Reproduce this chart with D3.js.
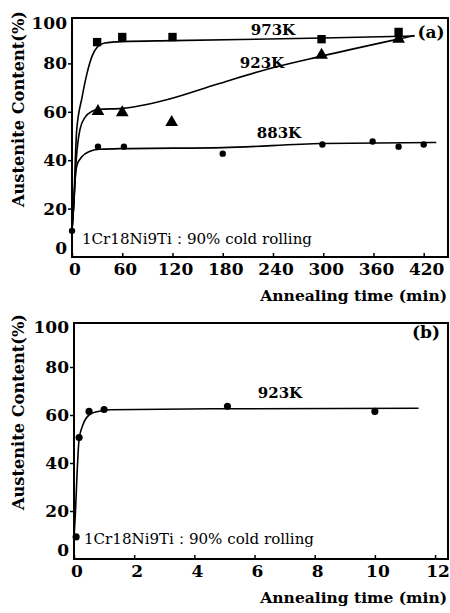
<!DOCTYPE html>
<html>
<head>
<meta charset="utf-8">
<script src="https://cdn.jsdelivr.net/npm/d3@7"></script>
<style>
  body { margin: 0; background: #fff; }
  text { font-family: "DejaVu Serif", "Liberation Serif", "Noto Serif", serif; }
</style>
</head>
<body>
<svg width="450" height="613"></svg>
<script>
// panel (a): annealing time in minutes
var ticksA = [0, 60, 120, 180, 240, 300, 360, 420];
var yTicks = [0, 20, 40, 60, 80, 100];

var pts973 = [[30, 88.8], [60, 90.9], [120, 90.9], [298, 90], [390, 93]];
var pts923 = [[31, 60.2], [60, 59.7], [119, 55.6], [298, 83.4], [390, 90]];
var pts883 = [[0, 10.8], [31, 45.6], [62, 45.6], [180, 42.7], [299, 46.5], [359, 47.7], [390, 45.6], [420, 46.5]];

// fitted curves
var fit973 = [[0, 11], [2, 22], [5.5, 52], [12, 66], [18, 76], [24, 83], [30, 86.7], [39, 88.4], [60, 89], [120, 89.4], [300, 90.5], [409, 91.3]];
var fit923 = [[0, 11], [2, 21], [5, 40], [9.5, 52.7], [15.5, 57.7], [24, 60.2], [32, 61], [60, 61.4], [113, 65], [173, 71.4], [233, 77.6], [298, 83], [389, 90], [409, 91.5]];
var fit883 = [[0, 11], [2, 21], [4, 33], [6, 38], [12, 41.5], [20, 43.5], [33, 44.5], [62, 44.8], [180, 45.2], [299, 46.9], [435, 47.3]];

// panel (b): annealing time in minutes, 923K
var ticksB = [0, 2, 4, 6, 8, 10, 12];
var ptsB = [[0.07, 9.2], [0.17, 50.6], [0.5, 61.5], [1.0, 62.3], [5.1, 63.6], [10, 61.5]];
var fitB = [[0, 9], [0.05, 20], [0.1, 35], [0.17, 50], [0.3, 56], [0.5, 60], [0.8, 61.5], [1.2, 62.2], [5, 62.6], [11.45, 62.8]];

var svg = d3.select("svg");

function panel(opt) {
  var x = d3.scaleLinear().domain(opt.xDomain).range([opt.left, opt.right]);
  var y = d3.scaleLinear().domain([0, 100]).range([opt.bottom, opt.top100]);
  var g = svg.append("g");

  // frame
  g.append("rect")
    .attr("x", opt.left).attr("y", opt.top)
    .attr("width", opt.right - opt.left).attr("height", opt.bottom - opt.top)
    .style("fill", "none").style("stroke", "#000").style("stroke-width", "2px");

  // x ticks point inwards
  var xAxis = d3.axisBottom(x).tickValues(opt.xTicks).tickSize(-4).tickFormat("");
  g.append("g").attr("transform", "translate(0," + opt.bottom + ")").call(xAxis)
    .call(function (s) { s.select(".domain").remove(); s.selectAll("line").style("stroke-width", "1.5px"); });
  g.selectAll("text.xt").data(opt.xTicks).enter().append("text")
    .attr("class", "xt")
    .attr("x", function (d) { return x(d) + 3; })
    .attr("y", opt.bottom + 18)
    .attr("text-anchor", "middle")
    .style("font-size", "17px").style("font-weight", "bold")
    .text(function (d) { return d; });

  var yAxis = d3.axisLeft(y).tickValues([20, 40, 60, 80]).tickSize(4).tickFormat("");
  g.append("g").attr("transform", "translate(" + opt.left + ",0)").call(yAxis)
    .call(function (s) { s.select(".domain").remove(); s.selectAll("line").style("stroke-width", "1.5px"); });
  g.selectAll("text.yt").data(yTicks).enter().append("text")
    .attr("class", "yt")
    .attr("x", opt.left - 5)
    .attr("y", function (d) {
      // end labels sit a little inside the frame
      if (d === 100) return y(d) + 8;
      if (d === 0) return y(d) - 9;
      return y(d);
    })
    .attr("dy", "0.35em")
    .attr("text-anchor", "end")
    .style("font-size", "17px").style("font-weight", "bold")
    .text(function (d) { return d; });

  // axis titles
  g.append("text")
    .attr("transform", "translate(24," + opt.yTitleMid + ") rotate(-90)")
    .attr("text-anchor", "middle")
    .attr("textLength", 196).attr("lengthAdjust", "spacingAndGlyphs")
    .style("font-size", "17px").style("font-weight", "bold")
    .text("Austenite Content(%)");
  g.append("text")
    .attr("x", 447).attr("y", opt.bottom + 44)
    .attr("text-anchor", "end")
    .style("font-size", "15.5px").style("font-weight", "bold")
    .text("Annealing time (min)");

  var line = d3.line()
    .x(function (d) { return x(d[0]); })
    .y(function (d) { return y(d[1]); })
    .curve(d3.curveMonotoneX);

  opt.fits.forEach(function (f) {
    g.append("path").attr("d", line(f))
      .style("fill", "none").style("stroke", "#000").style("stroke-width", "1.6px");
  });

  opt.series.forEach(function (s) {
    var sym = d3.symbol().type(s.shape).size(s.size);
    g.selectAll(null).data(s.data).enter().append("path")
      .attr("transform", function (d) { return "translate(" + x(d[0]) + "," + y(d[1]) + ")"; })
      .attr("d", sym)
      .style("fill", "#000");
  });

  opt.labels.forEach(function (l) {
    g.append("text")
      .attr("x", l.x).attr("y", l.y)
      .attr("text-anchor", "middle")
      .attr("dy", "0.35em")
      .style("font-size", l.size + "px").style("font-weight", "bold")
      .text(l.text);
  });

  g.append("text")
    .attr("x", opt.left + 10).attr("y", opt.noteY)
    .attr("dy", "0.35em")
    .attr("textLength", 230).attr("lengthAdjust", "spacingAndGlyphs")
    .style("font-size", "15px")
    .text("1Cr18Ni9Ti：90% cold rolling");
}

panel({
  xDomain: [0, 449], left: 72, right: 448, top: 18, top100: 15, bottom: 257,
  xTicks: ticksA, yTitleMid: 109, noteY: 239,
  fits: [fit973, fit923, fit883],
  series: [
    { data: pts973, shape: d3.symbolSquare, size: 70 },
    { data: pts923, shape: d3.symbolTriangle, size: 70 },
    { data: pts883, shape: d3.symbolCircle, size: 32 }
  ],
  labels: [
    { text: "973K", x: 273, y: 30, size: 15 },
    { text: "923K", x: 262, y: 63, size: 15 },
    { text: "883K", x: 279, y: 133, size: 15 },
    { text: "(a)", x: 431, y: 32, size: 17 }
  ]
});

panel({
  xDomain: [0, 12.43], left: 74, right: 448, top: 323, top100: 319, bottom: 559,
  xTicks: ticksB, yTitleMid: 412, noteY: 539,
  fits: [fitB],
  series: [
    { data: ptsB, shape: d3.symbolCircle, size: 40 }
  ],
  labels: [
    { text: "923K", x: 280, y: 393, size: 15 },
    { text: "(b)", x: 426, y: 332, size: 17 }
  ]
});
</script>
</body>
</html>
